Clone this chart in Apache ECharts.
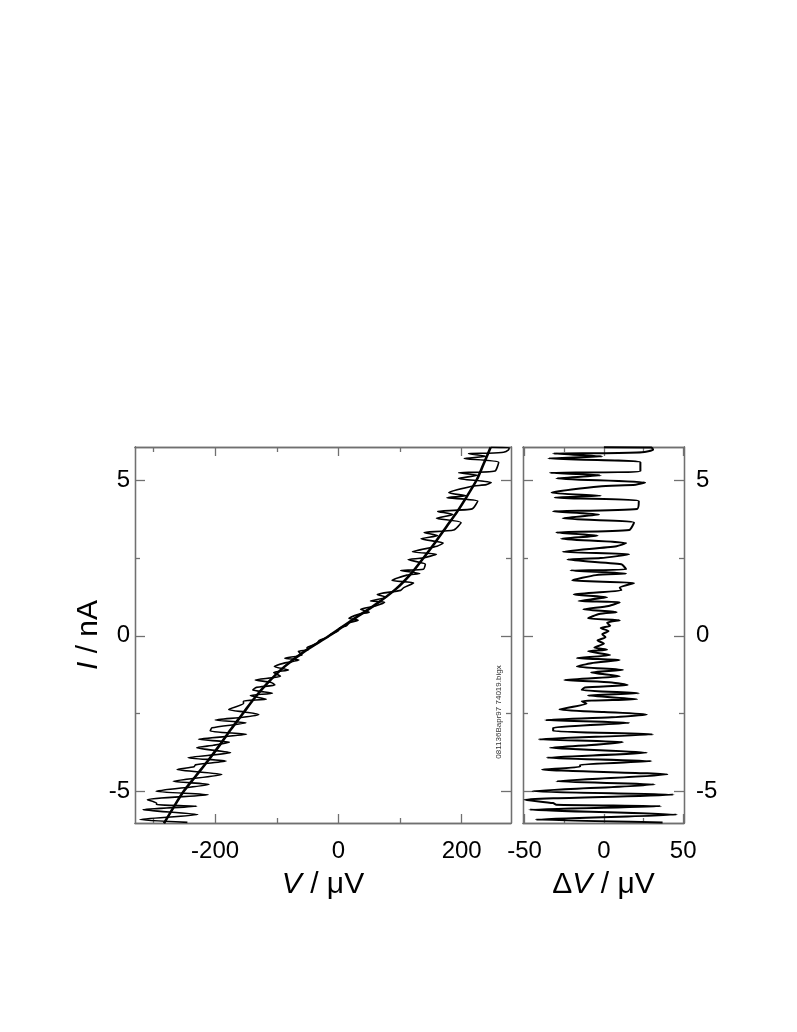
<!DOCTYPE html>
<html>
<head>
<meta charset="utf-8">
<script src="https://cdn.jsdelivr.net/npm/echarts@6/dist/echarts.min.js"></script>
<style>
html,body{margin:0;padding:0;background:#fff;}
#chart{width:797px;height:1032px;}
</style>
</head>
<body>
<div id="chart"></div>
<script>
// Smooth fitted I-V curve (left panel, thick line)
const fitI = [-6.03,-5.5,-5.0,-4.5,-4.0,-3.5,-3.0,-2.5,-2.0,-1.5,-1.0,-0.5,0,0.5,1.0,1.5,2.0,2.5,3.0,3.5,4.0,4.5,5.0,5.5,6.06];
const fitV = [-283,-267,-251,-231,-211,-192,-174,-155,-136,-114,-88,-55,-15,22,60,93,118,138,157,175,193,209,224,235,247];

// Measured trace: current (nA)
const traceI = [6.06,6.05,5.98,5.90,5.87,5.86,5.77,5.70,5.58,5.30,5.24,5.16,5.06,4.93,4.86,4.80,4.60,4.50,4.44,4.33,
  4.08,4.00,3.90,3.78,3.64,3.40,3.32,3.22,3.12,2.98,2.88,2.70,2.62,2.50,2.45,2.30,2.14,2.10,2.00,1.95,
  1.78,1.70,1.55,1.46,1.33,1.24,1.12,1.08,0.96,0.85,0.76,0.70,0.56,0.50,0.42,0.32,0.25,0.15,0.05,-0.05,
  -0.15,-0.25,-0.38,-0.45,-0.50,-0.62,-0.72,-0.78,-0.88,-0.99,-1.10,-1.18,-1.30,-1.42,-1.50,-1.58,-1.66,-1.74,-1.85,-1.92,
  -2.04,-2.10,-2.18,-2.37,-2.45,-2.53,-2.62,-2.71,-2.80,-2.96,-3.06,-3.17,-3.33,-3.42,-3.52,-3.60,-3.76,-3.92,-4.03,-4.15,
  -4.21,-4.30,-4.46,-4.68,-4.78,-5.00,-5.11,-5.27,-5.38,-5.43,-5.48,-5.59,-5.75,-5.91,-6.00];
// Measured trace: voltage (µV), left panel
const traceV = [247,277,276,268,243,211,240,204,260,254,195,226,195,248,240,215,179,207,176,226,
  217,161,186,159,199,187,139,161,134,170,160,120,159,136,113,141,138,101,132,111,
  87,122,106,101,63,78,52,75,60,36,50,34,17,32,18,13,2,-1,-12,-18,
  -31,-35,-51,-49,-65,-59,-87,-64,-88,-104,-81,-105,-94,-135,-109,-103,-133,-139,-107,-143,
  -117,-154,-154,-178,-153,-129,-155,-200,-150,-205,-208,-149,-227,-177,-203,-230,-175,-244,-182,-232,
  -234,-262,-189,-268,-210,-296,-211,-310,-295,-295,-230,-317,-228,-322,-245];
// Deviation from the fit (µV), right panel
const traceDV = [0,30,31,24,0,-32,-1,-35,23,23,-34,-2,-30,26,20,-3,-33,-2,-31,22,
  21,-32,-3,-26,19,16,-30,-4,-27,14,8,-26,16,-2,-23,11,14,-21,14,-5,
  -20,19,10,11,-19,2,-16,10,3,-13,8,-3,-10,10,2,4,-2,3,-1,1,
  -4,0,-6,2,-10,4,-17,10,-8,-17,12,-8,10,-25,5,15,-12,-14,22,-10,
  21,-14,-11,-28,0,27,5,-37,16,-32,-32,31,-41,12,-10,-34,27,-36,30,-15,
  -15,-39,40,-30,32,-45,44,-50,-32,-30,36,-47,46,-43,37];

// Tick values
const leftXMajor = [-200,0,200];
const leftXMinor = [-300,-100,100];
const rightXMajor = [-50,0,50];
const rightXMinor = [-25,25];
const yMajor = [-5,0,5];
const yMinor = [-2.5,2.5];

const FONT = '"Liberation Sans", Arial, Helvetica, sans-serif';
const AX = '#707070';

function xAx(grid, pos, min, max, ticks, len, labels, name) {
  const a = {
    type:'value', gridIndex:grid, position:pos, min:min, max:max,
    axisLine:{show:true, onZero:false, lineStyle:{color:AX, width:1.3}},
    axisTick:{show:true, inside:true, length:len, customValues:ticks, lineStyle:{color:AX, width:1.3}},
    axisLabel:{show:!!labels, customValues:labels||[], margin:16, fontSize:24, fontFamily:FONT, color:'#000'},
    splitLine:{show:false}
  };
  if (name) {
    a.name = name; a.nameLocation = 'middle'; a.nameGap = 47;
    a.nameTextStyle = {fontSize:30, fontFamily:FONT, color:'#000',
      rich:{i:{fontSize:30, fontFamily:FONT, fontStyle:'italic', color:'#000'}}};
  }
  return a;
}
function yAx(grid, pos, ticks, len, labels, margin, name) {
  const a = {
    type:'value', gridIndex:grid, position:pos, min:-6.02, max:6.07,
    axisLine:{show:true, onZero:false, lineStyle:{color:AX, width:1.3}},
    axisTick:{show:true, inside:true, length:len, customValues:ticks, lineStyle:{color:AX, width:1.3}},
    axisLabel:{show:!!labels, customValues:labels||[], margin:margin||5, fontSize:24, fontFamily:FONT, color:'#000'},
    splitLine:{show:false}
  };
  if (name) {
    a.name = name; a.nameLocation = 'middle'; a.nameGap = 31;
    a.nameTextStyle = {fontSize:30, fontFamily:FONT, color:'#000',
      rich:{i:{fontSize:30, fontFamily:FONT, fontStyle:'italic', color:'#000'}}};
  }
  return a;
}

const chart = echarts.init(document.getElementById('chart'), null, {renderer:'canvas'});
const option = {
  backgroundColor:'#fff',
  animation:false,
  grid:[
    {left:135, top:447, width:376, height:376},
    {left:523, top:447, width:161, height:376}
  ],
  xAxis:[
    xAx(0,'bottom',-330,280,leftXMajor,9,leftXMajor,'{i|V} / μV'),
    xAx(0,'bottom',-330,280,leftXMinor,5),
    xAx(0,'top',-330,280,leftXMajor,9),
    xAx(0,'top',-330,280,leftXMinor,5),
    xAx(1,'bottom',-51,50.5,rightXMajor,9,rightXMajor,'Δ{i|V} / μV'),
    xAx(1,'bottom',-51,50.5,rightXMinor,5),
    xAx(1,'top',-51,50.5,rightXMajor,9),
    xAx(1,'top',-51,50.5,rightXMinor,5)
  ],
  yAxis:[
    yAx(0,'left',yMajor,10,yMajor,5,'{i|I} / nA'),
    yAx(0,'left',yMinor,5),
    yAx(0,'right',yMajor,10),
    yAx(0,'right',yMinor,5),
    yAx(1,'left',yMajor,10),
    yAx(1,'left',yMinor,5),
    yAx(1,'right',yMajor,10,yMajor,12),
    yAx(1,'right',yMinor,5)
  ],
  series:[
    {type:'line', xAxisIndex:0, yAxisIndex:0, data:traceV.map((v,i)=>[v,traceI[i]]),
     showSymbol:false, smooth:0.2, lineStyle:{color:'#000', width:1.6}, clip:true, z:2},
    {type:'line', xAxisIndex:0, yAxisIndex:0, data:fitV.map((v,i)=>[v,fitI[i]]),
     showSymbol:false, smooth:0.3, lineStyle:{color:'#000', width:2.6}, clip:true, z:3},
    {type:'line', xAxisIndex:4, yAxisIndex:4, data:traceDV.map((v,i)=>[v,traceI[i]]),
     showSymbol:false, smooth:0.2, lineStyle:{color:'#000', width:2}, clip:true, z:2}
  ],
  graphic:[
    {type:'text', x:499, y:712, rotation:Math.PI/2,
     style:{text:'081136Bapr97 74019.bigx', fontSize:8, fontFamily:FONT, fill:'#333', align:'center', verticalAlign:'middle'}}
  ]
};
chart.setOption(option);
</script>
</body>
</html>
